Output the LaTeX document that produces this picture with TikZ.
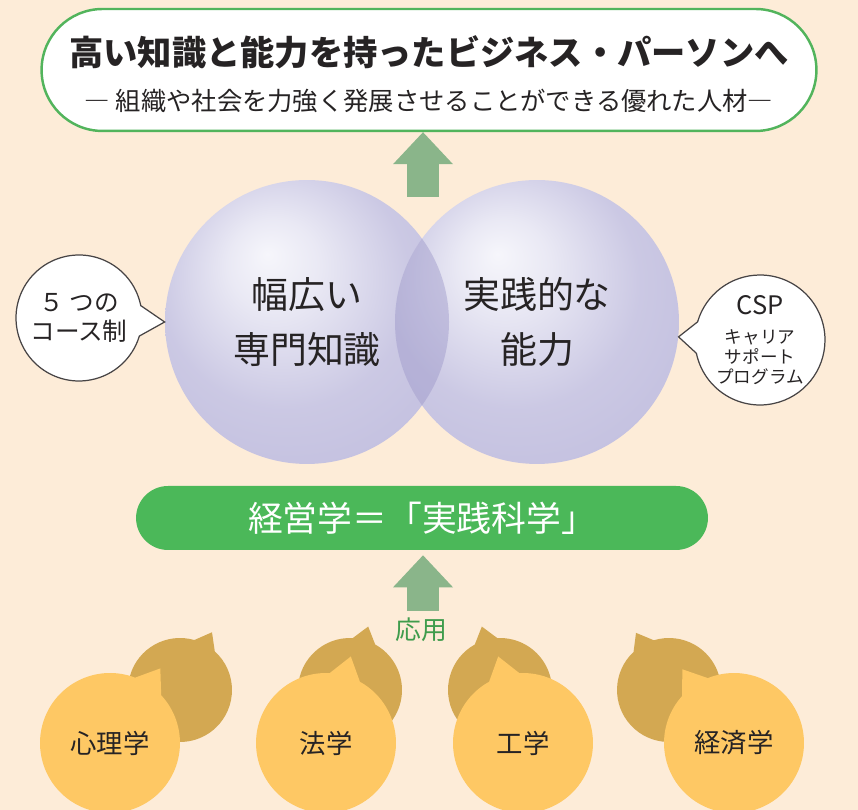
\documentclass[tikz,border=0pt]{standalone}
\usepackage{fontspec}
\setmainfont{Noto Sans CJK JP}
\usepackage{tikz}
\usetikzlibrary{shapes.geometric,
                shapes.callouts, %for the speech bubbles
                arrows.meta, %for the block arrows
                calc,
                positioning}

\definecolor{paper}{HTML}{FDECD8}
\definecolor{leaf}{HTML}{52B45C}
\definecolor{barc}{HTML}{4BB859}
\definecolor{sage}{HTML}{8AB58A}
\definecolor{applyc}{HTML}{3F9C4C}
\definecolor{lav}{HTML}{C4C1E0}
\definecolor{lavlight}{HTML}{F6F6FB}
\definecolor{lensc}{HTML}{9C97C9}
\definecolor{gold}{HTML}{FEC864}
\definecolor{goldback}{HTML}{D3A852}
\definecolor{ink}{HTML}{262324}

\pgfdeclareradialshading{glassball}{\pgfpoint{-7bp}{12bp}}{%
  color(0bp)=(lavlight); color(8bp)=(lavlight!75!lav);
  color(22bp)=(lav!88!white); color(32bp)=(lav); color(50bp)=(lav)}

\begin{document}
\begin{tikzpicture}[x=0.02cm, y=0.02cm,
                    every node/.style={text=ink},
                    goalbox/.style={draw=leaf, line width=1.4pt, fill=white, rounded corners=1.22cm,
                                    minimum width=15.5cm, minimum height=2.44cm},
                    glass/.style={circle, shading=glassball, minimum size=5.68cm, inner sep=0pt,
                                  align=center, font=\fontsize{21}{31}\selectfont},
                    talk/.style={ellipse callout, draw=ink!85, line width=0.7pt, fill=white,
                                 minimum size=2.52cm, inner sep=-3pt, callout pointer arc=28, align=center},
                    blockarrow/.style={sage, line width=0.64cm,
                                       -{Triangle[width=1.2cm, length=0.64cm, line width=0pt]}},
                    fieldback/.style={ellipse callout, fill=goldback, minimum size=2.08cm, callout pointer arc=26},
                    field/.style={ellipse callout, fill=gold, minimum size=2.8cm, inner sep=0pt,
                                  callout pointer arc=26, font=\fontsize{15}{18}\selectfont}
                    ]
    \useasboundingbox (0,0) rectangle (858,810);
    \fill[paper] (0,0) rectangle (858,810);

    % GOAL %
    \node[goalbox] (goal) at (429,740) {};
    \node[font=\bfseries\fontsize{19.5}{22}\selectfont] (title) at (429,758) {高い知識と能力を持ったビジネス・パーソンへ};
    \node[font=\fontsize{14.4}{17}\selectfont] (subtitle) at (429,709) {― 組織や社会を力強く発展させることができる優れた人材―};

    % CIRCLES %
    \node[glass] (wide) at (307,488) {幅広い\\専門知識};
    \node[glass] (practice) at (537,488) {実践的な\\能力};
    \begin{scope}
        \clip (wide.center) circle[radius=142];
        \fill[lensc, opacity=0.45] (practice.center) circle[radius=142];
    \end{scope}

    % BUBBLES %
    \node[talk, font=\fontsize{14}{17}\selectfont, callout absolute pointer={(wide.west)}] (course) at (79,492) {５ つの\\コース制};
    \node[talk, minimum size=2.6cm, font=\fontsize{10}{11.5}\selectfont, callout absolute pointer={(practice.-6)}] (csp) at (760,470)
        {{\fontsize{14.5}{17}\selectfont CSP}\\[5pt]キャリア\\サポート\\プログラム};

    % BAR %
    \node[fill=barc, rounded corners=0.64cm, minimum width=11.44cm, minimum height=1.28cm,
          text=white, font=\fontsize{19.8}{22}\selectfont] (bar) at (422,292) {経営学＝「実践科学」};

    % ARROWS %
    \coordinate (upfoot) at (423,613);
    \draw[blockarrow] (upfoot) -- (upfoot |- goal.south);
    \coordinate (lowfoot) at (423,199);
    \draw[blockarrow] (lowfoot) -- ([yshift=-0.1cm]lowfoot |- bar.south);
    \node[text=applyc, font=\fontsize{14.7}{17}\selectfont] (apply) at (421,180) {応用};

    % FIELDS %
    \foreach \bx/\ba/\fx/\fa/\subject [count=\i] in {180/61/110/56/心理学, 350/74/326/74/法学,
                                                     500/106/523/106/工学, 669/120/734/125/経済学}{
    \node[fieldback, callout relative pointer={(\ba:14)}] (back\i) at (\bx,120) {};
    \node[field, callout relative pointer={(\fa:20)}] (field\i) at (\fx,67) {\subject};
    }
\end{tikzpicture}
\end{document}
